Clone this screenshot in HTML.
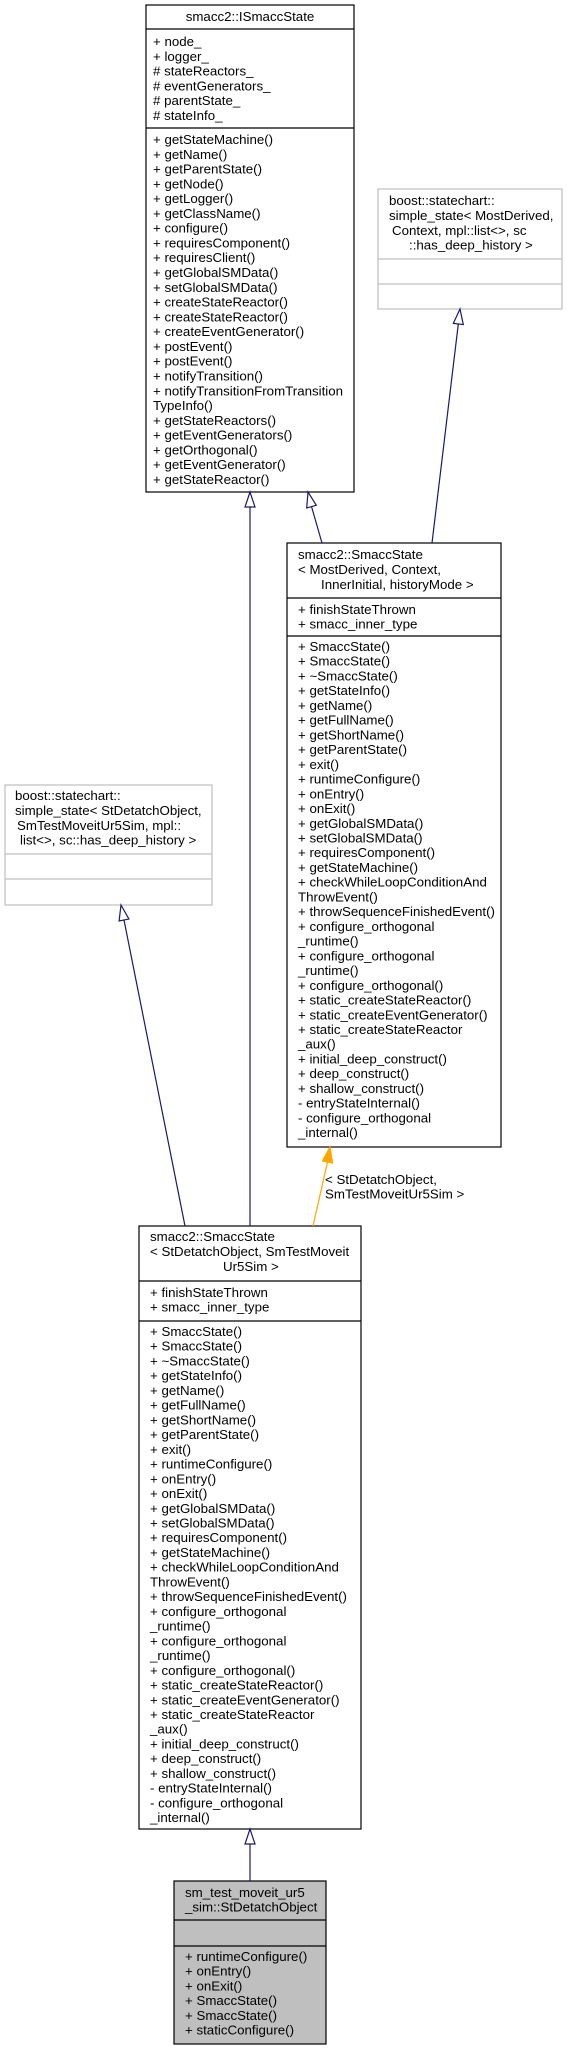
<!DOCTYPE html>
<html><head><meta charset="utf-8"><style>
html,body{margin:0;padding:0;background:#fff;}
svg{display:block;}
text{font-family:"Liberation Sans",Arial,sans-serif;font-size:13.3px;fill:#000;}
</style></head><body>
<svg width="567" height="2051" viewBox="0 0 567 2051" xmlns="http://www.w3.org/2000/svg">
<!-- Box A -->
<rect x="146" y="5" width="208" height="487" fill="#fff" stroke="#000" stroke-width="1.2"/>
<line x1="146" y1="29" x2="354" y2="29" stroke="#000" stroke-width="1.2"/>
<line x1="146" y1="128" x2="354" y2="128" stroke="#000" stroke-width="1.2"/>
<text x="250" y="21" text-anchor="middle">smacc2::ISmaccState</text>
<text y="46"><tspan x="153">+ node_</tspan><tspan x="153" dy="14.78">+ logger_</tspan><tspan x="153" dy="14.78"># stateReactors_</tspan><tspan x="153" dy="14.78"># eventGenerators_</tspan><tspan x="153" dy="14.78"># parentState_</tspan><tspan x="153" dy="14.78"># stateInfo_</tspan></text>
<text y="144"><tspan x="153">+ getStateMachine()</tspan><tspan x="153" dy="14.78">+ getName()</tspan><tspan x="153" dy="14.78">+ getParentState()</tspan><tspan x="153" dy="14.78">+ getNode()</tspan><tspan x="153" dy="14.78">+ getLogger()</tspan><tspan x="153" dy="14.78">+ getClassName()</tspan><tspan x="153" dy="14.78">+ configure()</tspan><tspan x="153" dy="14.78">+ requiresComponent()</tspan><tspan x="153" dy="14.78">+ requiresClient()</tspan><tspan x="153" dy="14.78">+ getGlobalSMData()</tspan><tspan x="153" dy="14.78">+ setGlobalSMData()</tspan><tspan x="153" dy="14.78">+ createStateReactor()</tspan><tspan x="153" dy="14.78">+ createStateReactor()</tspan><tspan x="153" dy="14.78">+ createEventGenerator()</tspan><tspan x="153" dy="14.78">+ postEvent()</tspan><tspan x="153" dy="14.78">+ postEvent()</tspan><tspan x="153" dy="14.78">+ notifyTransition()</tspan><tspan x="153" dy="14.78">+ notifyTransitionFromTransition</tspan><tspan x="153" dy="14.78">TypeInfo()</tspan><tspan x="153" dy="14.78">+ getStateReactors()</tspan><tspan x="153" dy="14.78">+ getEventGenerators()</tspan><tspan x="153" dy="14.78">+ getOrthogonal()</tspan><tspan x="153" dy="14.78">+ getEventGenerator()</tspan><tspan x="153" dy="14.78">+ getStateReactor()</tspan></text>

<!-- Box B -->
<rect x="378" y="189" width="184" height="120" fill="#fff" stroke="#bfbfbf" stroke-width="1.2"/>
<line x1="378" y1="259" x2="562" y2="259" stroke="#bfbfbf" stroke-width="1.2"/>
<line x1="378" y1="284" x2="562" y2="284" stroke="#bfbfbf" stroke-width="1.2"/>
<text y="205"><tspan x="389">boost::statechart::</tspan><tspan x="389" dy="14.9">simple_state&lt; MostDerived,</tspan><tspan x="392" dy="14.9">Context, mpl::list&lt;&gt;, sc</tspan><tspan x="409" dy="14.9">::has_deep_history &gt;</tspan></text>

<!-- Box C -->
<rect x="287" y="543" width="214" height="604" fill="#fff" stroke="#000" stroke-width="1.2"/>
<line x1="287" y1="598" x2="501" y2="598" stroke="#000" stroke-width="1.2"/>
<line x1="287" y1="636" x2="501" y2="636" stroke="#000" stroke-width="1.2"/>
<text y="559"><tspan x="298">smacc2::SmaccState</tspan><tspan x="298" dy="15">&lt; MostDerived, Context,</tspan><tspan x="321" dy="15">InnerInitial, historyMode &gt;</tspan></text>
<text y="614"><tspan x="298">+ finishStateThrown</tspan><tspan x="298" dy="14.73">+ smacc_inner_type</tspan></text>
<text y="651"><tspan x="298">+ SmaccState()</tspan><tspan x="298" dy="14.73">+ SmaccState()</tspan><tspan x="298" dy="14.73">+ ~SmaccState()</tspan><tspan x="298" dy="14.73">+ getStateInfo()</tspan><tspan x="298" dy="14.73">+ getName()</tspan><tspan x="298" dy="14.73">+ getFullName()</tspan><tspan x="298" dy="14.73">+ getShortName()</tspan><tspan x="298" dy="14.73">+ getParentState()</tspan><tspan x="298" dy="14.73">+ exit()</tspan><tspan x="298" dy="14.73">+ runtimeConfigure()</tspan><tspan x="298" dy="14.73">+ onEntry()</tspan><tspan x="298" dy="14.73">+ onExit()</tspan><tspan x="298" dy="14.73">+ getGlobalSMData()</tspan><tspan x="298" dy="14.73">+ setGlobalSMData()</tspan><tspan x="298" dy="14.73">+ requiresComponent()</tspan><tspan x="298" dy="14.73">+ getStateMachine()</tspan><tspan x="298" dy="14.73">+ checkWhileLoopConditionAnd</tspan><tspan x="298" dy="14.73">ThrowEvent()</tspan><tspan x="298" dy="14.73">+ throwSequenceFinishedEvent()</tspan><tspan x="298" dy="14.73">+ configure_orthogonal</tspan><tspan x="298" dy="14.73">_runtime()</tspan><tspan x="298" dy="14.73">+ configure_orthogonal</tspan><tspan x="298" dy="14.73">_runtime()</tspan><tspan x="298" dy="14.73">+ configure_orthogonal()</tspan><tspan x="298" dy="14.73">+ static_createStateReactor()</tspan><tspan x="298" dy="14.73">+ static_createEventGenerator()</tspan><tspan x="298" dy="14.73">+ static_createStateReactor</tspan><tspan x="298" dy="14.73">_aux()</tspan><tspan x="298" dy="14.73">+ initial_deep_construct()</tspan><tspan x="298" dy="14.73">+ deep_construct()</tspan><tspan x="298" dy="14.73">+ shallow_construct()</tspan><tspan x="298" dy="14.73">- entryStateInternal()</tspan><tspan x="298" dy="14.73">- configure_orthogonal</tspan><tspan x="298" dy="14.73">_internal()</tspan></text>

<!-- Box D -->
<rect x="5" y="785" width="207" height="120" fill="#fff" stroke="#bfbfbf" stroke-width="1.2"/>
<line x1="5" y1="854" x2="212" y2="854" stroke="#bfbfbf" stroke-width="1.2"/>
<line x1="5" y1="879" x2="212" y2="879" stroke="#bfbfbf" stroke-width="1.2"/>
<text y="800"><tspan x="15">boost::statechart::</tspan><tspan x="15" dy="14.9">simple_state&lt; StDetatchObject,</tspan><tspan x="17" dy="14.9">SmTestMoveitUr5Sim, mpl::</tspan><tspan x="20" dy="14.9">list&lt;&gt;, sc::has_deep_history &gt;</tspan></text>

<!-- Box E -->
<rect x="139" y="1226" width="222" height="603" fill="#fff" stroke="#000" stroke-width="1.2"/>
<line x1="139" y1="1281" x2="361" y2="1281" stroke="#000" stroke-width="1.2"/>
<line x1="139" y1="1321" x2="361" y2="1321" stroke="#000" stroke-width="1.2"/>
<text y="1241"><tspan x="150">smacc2::SmaccState</tspan><tspan x="150" dy="15">&lt; StDetatchObject, SmTestMoveit</tspan><tspan x="223" dy="15">Ur5Sim &gt;</tspan></text>
<text y="1297"><tspan x="150">+ finishStateThrown</tspan><tspan x="150" dy="14.73">+ smacc_inner_type</tspan></text>
<text y="1336"><tspan x="150">+ SmaccState()</tspan><tspan x="150" dy="14.73">+ SmaccState()</tspan><tspan x="150" dy="14.73">+ ~SmaccState()</tspan><tspan x="150" dy="14.73">+ getStateInfo()</tspan><tspan x="150" dy="14.73">+ getName()</tspan><tspan x="150" dy="14.73">+ getFullName()</tspan><tspan x="150" dy="14.73">+ getShortName()</tspan><tspan x="150" dy="14.73">+ getParentState()</tspan><tspan x="150" dy="14.73">+ exit()</tspan><tspan x="150" dy="14.73">+ runtimeConfigure()</tspan><tspan x="150" dy="14.73">+ onEntry()</tspan><tspan x="150" dy="14.73">+ onExit()</tspan><tspan x="150" dy="14.73">+ getGlobalSMData()</tspan><tspan x="150" dy="14.73">+ setGlobalSMData()</tspan><tspan x="150" dy="14.73">+ requiresComponent()</tspan><tspan x="150" dy="14.73">+ getStateMachine()</tspan><tspan x="150" dy="14.73">+ checkWhileLoopConditionAnd</tspan><tspan x="150" dy="14.73">ThrowEvent()</tspan><tspan x="150" dy="14.73">+ throwSequenceFinishedEvent()</tspan><tspan x="150" dy="14.73">+ configure_orthogonal</tspan><tspan x="150" dy="14.73">_runtime()</tspan><tspan x="150" dy="14.73">+ configure_orthogonal</tspan><tspan x="150" dy="14.73">_runtime()</tspan><tspan x="150" dy="14.73">+ configure_orthogonal()</tspan><tspan x="150" dy="14.73">+ static_createStateReactor()</tspan><tspan x="150" dy="14.73">+ static_createEventGenerator()</tspan><tspan x="150" dy="14.73">+ static_createStateReactor</tspan><tspan x="150" dy="14.73">_aux()</tspan><tspan x="150" dy="14.73">+ initial_deep_construct()</tspan><tspan x="150" dy="14.73">+ deep_construct()</tspan><tspan x="150" dy="14.73">+ shallow_construct()</tspan><tspan x="150" dy="14.73">- entryStateInternal()</tspan><tspan x="150" dy="14.73">- configure_orthogonal</tspan><tspan x="150" dy="14.73">_internal()</tspan></text>

<!-- Box F -->
<rect x="174" y="1881" width="152" height="163" fill="#bfbfbf" stroke="#000" stroke-width="1.2"/>
<line x1="174" y1="1920" x2="326" y2="1920" stroke="#000" stroke-width="1.2"/>
<line x1="174" y1="1946" x2="326" y2="1946" stroke="#000" stroke-width="1.2"/>
<text y="1897"><tspan x="185">sm_test_moveit_ur5</tspan><tspan x="185" dy="14.5">_sim::StDetatchObject</tspan></text>
<text y="1961"><tspan x="185">+ runtimeConfigure()</tspan><tspan x="185" dy="14.73">+ onEntry()</tspan><tspan x="185" dy="14.73">+ onExit()</tspan><tspan x="185" dy="14.73">+ SmaccState()</tspan><tspan x="185" dy="14.73">+ SmaccState()</tspan><tspan x="185" dy="14.73">+ staticConfigure()</tspan></text>

<!-- Edges -->
<g stroke="#191970" stroke-width="1.2" fill="#fff">
  <line x1="250" y1="1226" x2="250" y2="507"/>
  <polygon points="250,492 245,507 255,507"/>
  <line x1="322" y1="543" x2="311.5" y2="506.5"/>
  <polygon points="308,492 306.7,508 316.3,505.3"/>
  <line x1="432" y1="543" x2="458.3" y2="324"/>
  <polygon points="460,309 453.3,323.4 463.3,324.6"/>
  <line x1="185" y1="1226" x2="124" y2="920"/>
  <polygon points="121,905 119.1,921 128.9,919"/>
  <line x1="250" y1="1881" x2="250" y2="1844"/>
  <polygon points="250,1829 245,1844 255,1844"/>
</g>
<line x1="313" y1="1226" x2="327.5" y2="1162" stroke="#ffa500" stroke-width="1.2"/>
<polygon points="330,1147 322.5,1161 332.5,1163" fill="#ffa500" stroke="#ffa500" stroke-width="1.2"/>
<text y="1184"><tspan x="325">&lt; StDetatchObject,</tspan><tspan x="325" dy="14.5">SmTestMoveitUr5Sim &gt;</tspan></text>
</svg>
</body></html>
